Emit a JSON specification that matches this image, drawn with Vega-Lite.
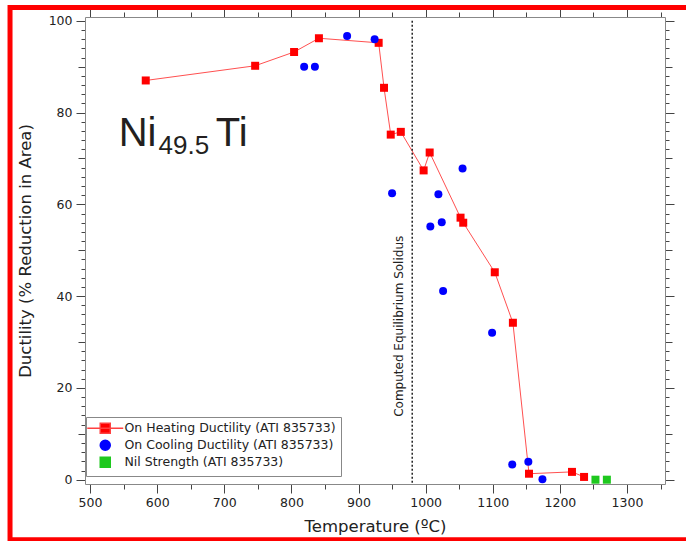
{
  "$schema": "https://vega.github.io/schema/vega-lite/v6.json",
  "width": 580,
  "height": 467,
  "autosize": {"type": "none"},
  "padding": {"left": 85, "top": 17, "right": 21, "bottom": 57},
  "background": "white",
  "config": {
    "view": {"stroke": null},
    "axis": {
      "labelFont": "DejaVu Sans",
      "labelFontSize": 12.5,
      "labelColor": "#222",
      "titleFont": "DejaVu Sans",
      "titleFontSize": 16.5,
      "titleFontWeight": "normal",
      "titleColor": "#222",
      "domainColor": "#888",
      "domainWidth": 1,
      "tickColor": "#444",
      "tickWidth": 1,
      "grid": false,
      "labelOverlap": false,
      "labelFlush": false,
      "labelBound": false
    },
    "legend": {"labelLimit": 0},
    "text": {"font": "Liberation Sans"}
  },
  "datasets": {
    "pts": [
      {"series": "On Heating Ductility (ATI 835733)", "temp": 583, "ductility": 87.0},
      {"series": "On Heating Ductility (ATI 835733)", "temp": 746, "ductility": 90.2},
      {"series": "On Heating Ductility (ATI 835733)", "temp": 804, "ductility": 93.2},
      {"series": "On Heating Ductility (ATI 835733)", "temp": 841, "ductility": 96.2},
      {"series": "On Heating Ductility (ATI 835733)", "temp": 930, "ductility": 95.2},
      {"series": "On Heating Ductility (ATI 835733)", "temp": 938, "ductility": 85.4},
      {"series": "On Heating Ductility (ATI 835733)", "temp": 948, "ductility": 75.2},
      {"series": "On Heating Ductility (ATI 835733)", "temp": 963, "ductility": 75.8},
      {"series": "On Heating Ductility (ATI 835733)", "temp": 997, "ductility": 67.4},
      {"series": "On Heating Ductility (ATI 835733)", "temp": 1006, "ductility": 71.3},
      {"series": "On Heating Ductility (ATI 835733)", "temp": 1052, "ductility": 57.1},
      {"series": "On Heating Ductility (ATI 835733)", "temp": 1056, "ductility": 56.0},
      {"series": "On Heating Ductility (ATI 835733)", "temp": 1103, "ductility": 45.2},
      {"series": "On Heating Ductility (ATI 835733)", "temp": 1130, "ductility": 34.2},
      {"series": "On Heating Ductility (ATI 835733)", "temp": 1154, "ductility": 1.3},
      {"series": "On Heating Ductility (ATI 835733)", "temp": 1218, "ductility": 1.7},
      {"series": "On Heating Ductility (ATI 835733)", "temp": 1236, "ductility": 0.6},
      {"series": "On Cooling Ductility (ATI 835733)", "temp": 819, "ductility": 90.0},
      {"series": "On Cooling Ductility (ATI 835733)", "temp": 835, "ductility": 90.0},
      {"series": "On Cooling Ductility (ATI 835733)", "temp": 883, "ductility": 96.7},
      {"series": "On Cooling Ductility (ATI 835733)", "temp": 924, "ductility": 96.0},
      {"series": "On Cooling Ductility (ATI 835733)", "temp": 950, "ductility": 62.4},
      {"series": "On Cooling Ductility (ATI 835733)", "temp": 1007, "ductility": 55.2},
      {"series": "On Cooling Ductility (ATI 835733)", "temp": 1019, "ductility": 62.2},
      {"series": "On Cooling Ductility (ATI 835733)", "temp": 1024, "ductility": 56.1},
      {"series": "On Cooling Ductility (ATI 835733)", "temp": 1026, "ductility": 41.1},
      {"series": "On Cooling Ductility (ATI 835733)", "temp": 1055, "ductility": 67.8},
      {"series": "On Cooling Ductility (ATI 835733)", "temp": 1099, "ductility": 32.0},
      {"series": "On Cooling Ductility (ATI 835733)", "temp": 1129, "ductility": 3.3},
      {"series": "On Cooling Ductility (ATI 835733)", "temp": 1153, "ductility": 3.9},
      {"series": "On Cooling Ductility (ATI 835733)", "temp": 1174, "ductility": 0.1},
      {"series": "Nil Strength (ATI 835733)", "temp": 1253, "ductility": 0},
      {"series": "Nil Strength (ATI 835733)", "temp": 1270, "ductility": 0}
    ]
  },
  "data": {"name": "pts"},
  "resolve": {"axis": {"x": "independent", "y": "independent"}},
  "layer": [
    {
      "data": {"values": [{}]},
      "mark": {"type": "rect", "fill": null, "stroke": "#ff0000", "strokeWidth": 5, "clip": false},
      "encoding": {
        "x": {"datum": 380.8, "type": "quantitative", "scale": {"domain": [492.5, 1356.6], "nice": false, "zero": false}, "axis": null},
        "x2": {"datum": 1410},
        "y": {"datum": 102.9, "type": "quantitative", "scale": {"domain": [-0.94, 100.83], "nice": false, "zero": false}, "axis": null},
        "y2": {"datum": -13.1}
      }
    },
    {
      "transform": [{"filter": "datum.series === 'On Heating Ductility (ATI 835733)'"}],
      "mark": {"type": "line", "color": "#ff5050", "strokeWidth": 1},
      "encoding": {
        "x": {
          "field": "temp", "type": "quantitative",
          "axis": {
            "orient": "bottom",
            "title": "Temperature (ºC)",
            "values": [500, 550, 600, 650, 700, 750, 800, 850, 900, 950, 1000, 1050, 1100, 1150, 1200, 1250, 1300, 1350],
            "format": "d",
            "labelExpr": "datum.value % 100 === 0 ? datum.label : ''",
            "tickSize": {"condition": {"test": "datum.value % 100 === 0", "value": 9}, "value": 5},
            "labelPadding": 3,
            "titlePadding": 10
          }
        },
        "y": {
          "field": "ductility", "type": "quantitative",
          "axis": {
            "orient": "left",
            "title": "Ductility (% Reduction in Area)",
            "values": [0, 2, 4, 6, 8, 10, 12, 14, 16, 18, 20, 22, 24, 26, 28, 30, 32, 34, 36, 38, 40, 42, 44, 46, 48, 50, 52, 54, 56, 58, 60, 62, 64, 66, 68, 70, 72, 74, 76, 78, 80, 82, 84, 86, 88, 90, 92, 94, 96, 98, 100],
            "format": "d",
            "labelExpr": "datum.value % 20 === 0 ? datum.label : ''",
            "tickSize": {"condition": [{"test": "datum.value % 20 === 0", "value": 9}, {"test": "datum.value % 10 === 0", "value": 7}], "value": 4},
            "labelPadding": 4,
            "titlePadding": 15
          }
        }
      }
    },
    {
      "transform": [{"filter": "datum.series === 'On Heating Ductility (ATI 835733)'"}],
      "mark": {"type": "point", "shape": "square", "filled": true, "size": 64, "opacity": 1, "color": "#ff0000"},
      "encoding": {
        "x": {
          "field": "temp", "type": "quantitative",
          "axis": {
            "orient": "top", "title": null, "labels": false,
            "values": [500, 550, 600, 650, 700, 750, 800, 850, 900, 950, 1000, 1050, 1100, 1150, 1200, 1250, 1300, 1350],
            "tickSize": {"condition": {"test": "datum.value % 100 === 0", "value": 9}, "value": 5}
          }
        },
        "y": {
          "field": "ductility", "type": "quantitative",
          "axis": {
            "orient": "right", "title": null, "labels": false,
            "values": [0, 2, 4, 6, 8, 10, 12, 14, 16, 18, 20, 22, 24, 26, 28, 30, 32, 34, 36, 38, 40, 42, 44, 46, 48, 50, 52, 54, 56, 58, 60, 62, 64, 66, 68, 70, 72, 74, 76, 78, 80, 82, 84, 86, 88, 90, 92, 94, 96, 98, 100],
            "tickSize": {"condition": [{"test": "datum.value % 20 === 0", "value": 9}, {"test": "datum.value % 10 === 0", "value": 7}], "value": 4}
          }
        }
      }
    },
    {
      "transform": [{"filter": "datum.series === 'On Cooling Ductility (ATI 835733)'"}],
      "mark": {"type": "point", "shape": "circle", "filled": true, "size": 64, "opacity": 1, "color": "#0000ff"},
      "encoding": {
        "x": {"field": "temp", "type": "quantitative", "axis": null},
        "y": {"field": "ductility", "type": "quantitative", "axis": null}
      }
    },
    {
      "transform": [{"filter": "datum.series === 'Nil Strength (ATI 835733)'"}],
      "mark": {"type": "point", "shape": "square", "filled": true, "size": 64, "opacity": 1, "color": "#1ec81e"},
      "encoding": {
        "x": {"field": "temp", "type": "quantitative", "axis": null},
        "y": {"field": "ductility", "type": "quantitative", "axis": null}
      }
    },
    {
      "mark": {"type": "point", "filled": true, "size": 56, "opacity": 0, "strokeWidth": 1},
      "encoding": {
        "x": {"field": "temp", "type": "quantitative", "axis": null},
        "y": {"field": "ductility", "type": "quantitative", "axis": null},
        "color": {
          "field": "series", "type": "nominal",
          "scale": {
            "domain": ["On Heating Ductility (ATI 835733)", "On Cooling Ductility (ATI 835733)", "Nil Strength (ATI 835733)"],
            "range": ["#ff0000", "#0000ff", "#1ec81e"]
          },
          "legend": {
            "title": null, "orient": "none", "legendX": 1, "legendY": 400,
            "direction": "vertical", "padding": 5,
            "strokeColor": "#888", "fillColor": "white", "labelLimit": 0,
            "labelFont": "DejaVu Sans", "labelFontSize": 12.5, "labelColor": "#222",
            "symbolOffset": 8, "labelOffset": 13, "rowPadding": 0, "symbolOpacity": 1
          }
        },
        "stroke": {
          "field": "series", "type": "nominal",
          "scale": {
            "domain": ["On Heating Ductility (ATI 835733)", "On Cooling Ductility (ATI 835733)", "Nil Strength (ATI 835733)"],
            "range": ["#ff4040", "#0000ff", "#1ec81e"]
          },
          "legend": {
            "title": null, "orient": "none", "legendX": 1, "legendY": 400,
            "direction": "vertical", "padding": 5,
            "strokeColor": "#888", "fillColor": "white", "labelLimit": 0,
            "labelFont": "DejaVu Sans", "labelFontSize": 12.5, "labelColor": "#222",
            "symbolOffset": 8, "labelOffset": 13, "rowPadding": 0, "symbolOpacity": 1
          }
        },
        "shape": {
          "field": "series", "type": "nominal",
          "scale": {
            "domain": ["On Heating Ductility (ATI 835733)", "On Cooling Ductility (ATI 835733)", "Nil Strength (ATI 835733)"],
            "range": ["M-3.6,0H3.6M-1,-1H1V1H-1Z", "circle", "square"]
          },
          "legend": {
            "title": null, "orient": "none", "legendX": 1, "legendY": 400,
            "direction": "vertical", "padding": 5,
            "strokeColor": "#888", "fillColor": "white", "labelLimit": 0,
            "labelFont": "DejaVu Sans", "labelFontSize": 12.5, "labelColor": "#222",
            "symbolOffset": 8, "labelOffset": 13, "rowPadding": 0, "symbolOpacity": 1
          }
        }
      }
    },
    {
      "data": {"values": [{}]},
      "mark": {"type": "rule", "color": "#222", "strokeWidth": 1.5, "strokeDash": [2, 2]},
      "encoding": {
        "x": {"datum": 980, "type": "quantitative", "axis": null},
        "y": {"datum": 100, "type": "quantitative", "axis": null},
        "y2": {"datum": -0.94}
      }
    },
    {
      "data": {"values": [{}]},
      "mark": {"type": "text", "text": "Computed Equilibrium Solidus", "angle": 270, "align": "left", "baseline": "middle", "font": "DejaVu Sans", "fontSize": 12, "color": "#222"},
      "encoding": {
        "x": {"datum": 961, "type": "quantitative", "axis": null},
        "y": {"datum": 13.7, "type": "quantitative", "axis": null}
      }
    },
    {
      "data": {"values": [{}]},
      "mark": {"type": "text", "text": "Ni", "align": "left", "baseline": "alphabetic", "fontSize": 40, "color": "#231f20"},
      "encoding": {
        "x": {"datum": 542.7, "type": "quantitative", "axis": null},
        "y": {"datum": 72.78, "type": "quantitative", "axis": null}
      }
    },
    {
      "data": {"values": [{}]},
      "mark": {"type": "text", "text": "49.5", "align": "left", "baseline": "alphabetic", "fontSize": 26, "color": "#231f20"},
      "encoding": {
        "x": {"datum": 602.1, "type": "quantitative", "axis": null},
        "y": {"datum": 70.91, "type": "quantitative", "axis": null}
      }
    },
    {
      "data": {"values": [{}]},
      "mark": {"type": "text", "text": "Ti", "align": "left", "baseline": "alphabetic", "fontSize": 40, "color": "#231f20"},
      "encoding": {
        "x": {"datum": 687.4, "type": "quantitative", "axis": null},
        "y": {"datum": 72.78, "type": "quantitative", "axis": null}
      }
    }
  ]
}
